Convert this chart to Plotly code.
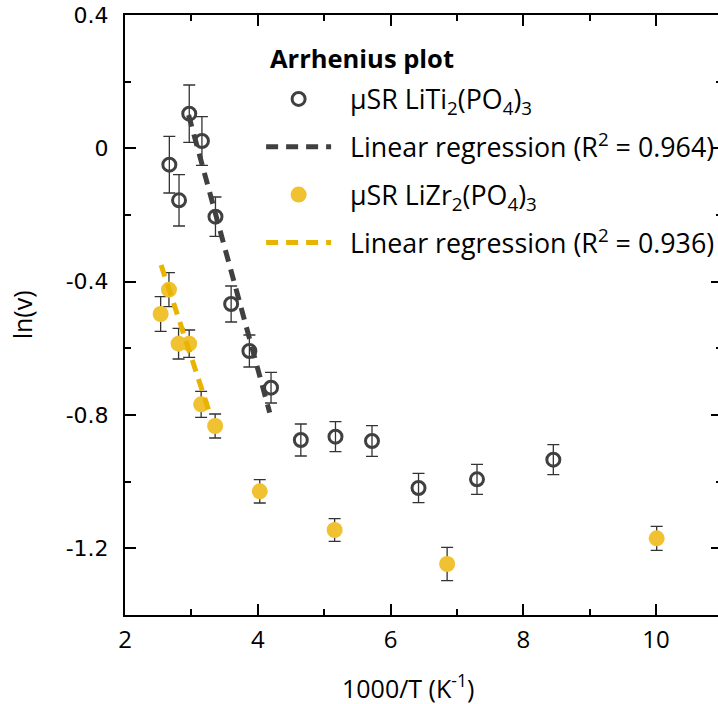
import plotly.graph_objects as go

# LiTi2(PO4)3 muSR data
ti_x = [2.668, 2.814, 2.968, 3.159, 3.363, 3.599, 3.874, 4.200, 4.649, 5.171, 5.721, 6.422, 7.303, 8.453]
ti_y = [-0.049, -0.156, 0.104, 0.022, -0.205, -0.467, -0.608, -0.718, -0.875, -0.865, -0.878, -1.019, -0.993, -0.934]
ti_err = [0.085, 0.077, 0.086, 0.073, 0.059, 0.054, 0.048, 0.046, 0.048, 0.045, 0.046, 0.044, 0.045, 0.045]

# LiZr2(PO4)3 muSR data
zr_x = [2.537, 2.662, 2.807, 2.967, 3.147, 3.358, 4.030, 5.158, 6.853, 10.01]
zr_y = [-0.497, -0.424, -0.586, -0.586, -0.768, -0.833, -1.029, -1.145, -1.247, -1.170]
zr_err = [0.052, 0.051, 0.046, 0.041, 0.039, 0.036, 0.035, 0.034, 0.050, 0.036]

# Linear regression lines (end points)
ti_fit_x = [2.958, 4.180]
ti_fit_y = [0.100, -0.793]
zr_fit_x = [2.544, 3.294]
zr_fit_y = [-0.350, -0.806]

y_tickvals = [-1.2, -0.8, -0.4, 0, 0.4]
y_ticktext = ["-1.2", "-0.8", "-0.4", "0", "0.4"]

NB = "\u00a0\u00a0"
names = [
    NB + "μSR LiTi<sub>2</sub>(PO<sub>4</sub>)<sub>3</sub>",
    NB + "Linear regression (R<sup>2</sup> = 0.964)",
    NB + "μSR LiZr<sub>2</sub>(PO<sub>4</sub>)<sub>3</sub>",
    NB + "Linear regression (R<sup>2</sup> = 0.936)",
]

GRAY = "#404040"
YEL_M = "#F0C232"
YEL_L = "#E8B400"
TXT = "Open Sans"

fig = go.Figure()
fig.add_trace(go.Scatter(
    x=ti_x, y=ti_y, mode="markers", name=names[0], legendrank=1, legendgroup="a",
    marker=dict(symbol="circle-open", size=13, color=GRAY, line=dict(width=3, color=GRAY)),
    error_y=dict(type="data", array=ti_err, color="#333333", thickness=1.3, width=6),
))
fig.add_trace(go.Scatter(
    x=zr_x, y=zr_y, mode="markers", name=names[2], legendrank=3, legendgroup="c",
    marker=dict(symbol="circle", size=16, color=YEL_M, line=dict(width=0)),
    error_y=dict(type="data", array=zr_err, color="#333333", thickness=1.3, width=6),
))
fig.add_trace(go.Scatter(
    x=ti_fit_x, y=ti_fit_y, mode="lines", name=names[1], legendrank=2, legendgroup="b",
    line=dict(color=GRAY, width=5, dash="12px,8px"),
))
fig.add_trace(go.Scatter(
    x=zr_fit_x, y=zr_fit_y, mode="lines", name=names[3], legendrank=4, legendgroup="d",
    line=dict(color=YEL_L, width=5, dash="12px,8px"),
))

axis_common = dict(
    showline=True, linewidth=2, linecolor="black", mirror="ticks",
    ticks="inside", ticklen=11, tickwidth=2, tickcolor="black",
    showgrid=False, zeroline=False,
)

fig.update_layout(
    width=724, height=704,
    margin=dict(l=125, r=0, t=15, b=89),
    paper_bgcolor="white", plot_bgcolor="white",
    font=dict(family=TXT, color="black"),
    showlegend=True,
    legend=dict(
        x=0.228, y=0.9, xanchor="left", yanchor="top",
        font=dict(family=TXT, size=26.8, color="black"),
        bgcolor="rgba(0,0,0,0)", itemwidth=65, traceorder="grouped", tracegroupgap=10,
    ),
    xaxis=dict(
        range=[2, 10.994], tick0=2, dtick=2,
        tickfont=dict(family=TXT, size=24),
        minor=dict(dtick=1, ticklen=6, tickwidth=2, ticks="inside", tickcolor="black"),
        ticklabelstandoff=2,
        **axis_common,
    ),
    yaxis=dict(
        range=[-1.4, 0.4], tickmode="array", tickvals=y_tickvals, ticktext=y_ticktext,
        tickfont=dict(family="DejaVu Sans", size=22),
        minor=dict(tick0=0, dtick=0.2, ticklen=6, tickwidth=2, ticks="inside", tickcolor="black"),
        ticklabelstandoff=10, ticklabeloverflow="allow",
        **axis_common,
    ),
    annotations=[
        dict(text="<b>Arrhenius plot</b>", xref="paper", yref="paper", x=0.2387, y=0.9283,
             xanchor="left", yanchor="middle", showarrow=False,
             font=dict(family=TXT, size=25.5, color="black")),
        dict(text="1000/T (K<sup>-1</sup>)", xref="paper", yref="paper", x=0.4741, y=-0.1185,
             xanchor="center", yanchor="middle", showarrow=False,
             font=dict(family=TXT, size=25, color="black")),
        dict(text="ln(v)", xref="paper", yref="paper", x=-0.172, y=0.5, textangle=-90,
             xanchor="center", yanchor="middle", showarrow=False,
             font=dict(family=TXT, size=25, color="black")),
    ],
)

fig.write_html(
    "out.html",
    config={"displayModeBar": False},
    post_script="document.documentElement.style.overflow='hidden';"
                "document.body.style.overflow='hidden';document.body.style.margin='0';",
)
